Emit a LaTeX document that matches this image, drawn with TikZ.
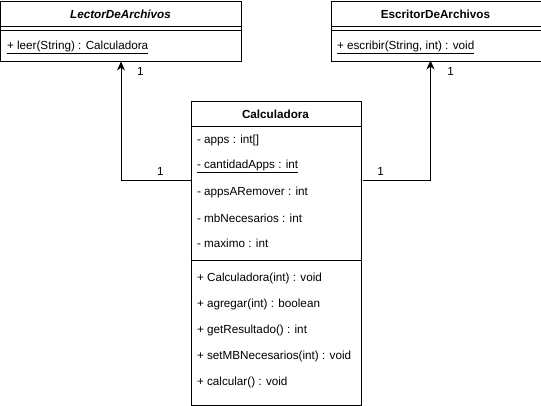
\documentclass[tikz,border=0pt]{standalone}
\usepackage{fontspec}
\setmainfont{Liberation Sans}
\usetikzlibrary{arrows.meta,positioning}

\begin{document}
\begin{tikzpicture}[x=1pt, y=-1pt, line width=1pt,
                    class box/.style={draw,inner sep=0pt,anchor=north west},
                    title/.style={font=\fontsize{11.7}{14}\selectfont\bfseries},
                    member/.style={anchor=west,inner sep=0pt,font=\fontsize{11.7}{14}\selectfont},
                    mult/.style={inner sep=0pt,font=\fontsize{11.7}{14}\selectfont},
                    assoc/.style={-{Stealth[length=9pt,width=8pt]}}]

  \useasboundingbox (-0.5,-0.5) rectangle (540.5,404.5);

  % LectorDeArchivos
  \node[class box,minimum width=240pt,minimum height=60pt] (lector) at (0,0) {};
  \node[title] (lector title) at (120,14) {\itshape LectorDeArchivos};
  \draw (0,26) -- (240,26);
  \draw (0,30) -- (240,30);
  \node[member] (leer) at (6,47) {\underline{+ leer(String) : Calculadora}};

  % EscritorDeArchivos
  \node[class box,minimum width=210pt,minimum height=60pt] (escritor) at (330,0) {};
  \node[title] (escritor title) at (435,14) {EscritorDeArchivos};
  \draw (330,26) -- (540,26);
  \draw (330,30) -- (540,30);
  \node[member] (escribir) at (336,47) {\underline{+ escribir(String, int) : void}};

  % Calculadora
  \node[class box,minimum width=170pt,minimum height=304pt] (calc) at (190,100) {};
  \node[title] (calc title) at (275,114) {Calculadora};
  \draw (190,126) -- (360,126);
  \node[member] (apps) at (196,140) {- apps : int[]};
  \node[member] (cantidad) at (196,166) {\underline{- cantidadApps : int}};
  \node[member] (remover) at (196,192) {- appsARemover : int};
  \node[member] (mb) at (196,218) {- mbNecesarios : int};
  \node[member] (maximo) at (196,243) {- maximo : int};
  \draw (190,260) -- (360,260);
  \node[member] (ctor) at (196,278) {+ Calculadora(int) : void};
  \node[member] (agregar) at (196,304) {+ agregar(int) : boolean};
  \node[member] (resultado) at (196,330) {+ getResultado() : int};
  \node[member] (setmb) at (196,356) {+ setMBNecesarios(int) : void};
  \node[member] (calcular) at (196,382) {+ calcular() : void};

  % connectors
  \coordinate (calc left) at (190,180);
  \coordinate (calc right) at (362,180);
  \coordinate (escritor in) at (430,60);

  \draw[assoc] (calc left) -| (lector.south);
  \draw[assoc] (calc right) -| (escritor in);

  \node[mult] (m1) at (140,71) {1};
  \node[mult] (m2) at (160,171) {1};
  \node[mult] (m3) at (450,71) {1};
  \node[mult] (m4) at (380,171) {1};

\end{tikzpicture}
\end{document}
